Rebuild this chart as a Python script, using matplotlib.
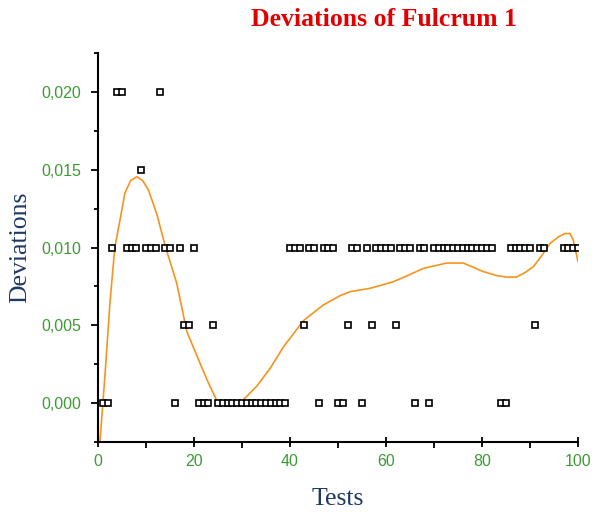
import matplotlib
matplotlib.use("Agg")
import matplotlib.pyplot as plt
from matplotlib.ticker import MultipleLocator, FuncFormatter

# measured deviations, grouped by level
x_000 = [1, 2, 16, 21, 22, 23] + list(range(25, 40)) + [46, 50, 51, 55, 66, 69, 84, 85]
x_005 = [18, 19, 24, 43, 52, 57, 62, 91]
x_010 = ([3, 6, 7, 8, 10, 11, 12, 14, 15, 17, 20, 40, 41, 42, 44, 45, 47, 48, 49,
          53, 54, 56, 58, 59, 60, 61, 63, 64, 65, 67, 68] + list(range(70, 83))
         + [86, 87, 88, 89, 90, 92, 93, 97, 98, 99, 100])
x_015 = [9]
x_020 = [4, 5, 13]

# fitted trend curve
curve_x = [0.4, 1.5, 2.5, 3.5, 4.6, 5.6, 6.8, 8.1, 9.3, 10.5, 12.2, 14.0, 15.2,
           16.4, 18.5, 21.2, 23.0, 24.7, 27.5, 29.9, 33.1, 36.0, 38.6, 42.8, 46.9,
           50.4, 52.5, 56.7, 61.5, 64.5, 67.8, 72.6, 76.1, 80.3, 83.0, 85.1, 87.2,
           89.0, 90.7, 92.5, 94.2, 96.0, 97.3, 98.3, 99.0, 100.0]
curve_y = [-0.0025, 0.0020, 0.0065, 0.0100, 0.0118, 0.0135, 0.0143, 0.01455, 0.0143,
           0.0137, 0.0122, 0.0101, 0.0089, 0.0077, 0.0046, 0.0026, 0.0013, 0.0002,
           -0.0001, 0.0001, 0.0011, 0.0023, 0.0036, 0.0053, 0.0063, 0.0069, 0.00716,
           0.00738, 0.0078, 0.0082, 0.00866, 0.0090, 0.0090, 0.00845, 0.0082, 0.0081,
           0.0081, 0.0084, 0.00877, 0.0095, 0.01027, 0.0107, 0.0109, 0.0109, 0.0105,
           0.0091]

fig = plt.figure(figsize=(5.98, 5.15), dpi=100)
ax = fig.add_axes([0.1639, 0.1417, 0.8027, 0.7554])

ax.plot(curve_x, curve_y, color="#f7931e", lw=1.2, zorder=2)

mk = dict(ls="none", marker="s", ms=4.2, mfc="white", mec="black", mew=1.2, zorder=3)
for xs, lvl in [(x_000, 0.0), (x_005, 0.005), (x_010, 0.010), (x_015, 0.015), (x_020, 0.020)]:
    ax.plot(xs, [lvl] * len(xs), **mk)

ax.set_xlim(0, 100)
ax.set_ylim(-0.0025, 0.0225)
for s in ["top", "right"]:
    ax.spines[s].set_visible(False)
for s in ["left", "bottom"]:
    ax.spines[s].set_linewidth(1.5)

green = "#3d9b35"
ax.xaxis.set_major_locator(MultipleLocator(20))
ax.xaxis.set_minor_locator(MultipleLocator(10))
ax.yaxis.set_major_locator(MultipleLocator(0.005))
ax.yaxis.set_minor_locator(MultipleLocator(0.0025))
ax.yaxis.set_major_formatter(FuncFormatter(lambda v, p: f"{v:.3f}".replace(".", ",")))
ax.tick_params(axis="x", which="major", direction="inout", length=7, width=1.3,
               labelsize=11.5, labelcolor=green, pad=5)
ax.tick_params(axis="x", which="minor", direction="out", length=4, width=1.3)
ax.tick_params(axis="y", which="major", direction="out", length=5, width=1.3,
               labelsize=11.5, labelcolor=green, pad=7)
ax.tick_params(axis="y", which="minor", direction="out", length=3, width=1.3)
for lab in ax.get_xticklabels() + ax.get_yticklabels():
    lab.set_fontfamily("Liberation Sans")

ax.set_xlabel("Tests", fontfamily="Liberation Serif", fontsize=18.5, color="#1f3864", labelpad=14)
ax.set_ylabel("Deviations", fontfamily="Liberation Serif", fontsize=18.5, color="#1f3864", labelpad=7)

fig.text(0.642, 0.963, "Deviations of Fulcrum 1", fontfamily="Liberation Serif",
         fontsize=18.5, fontweight="bold", color="#e00000", ha="center", va="center")

fig.savefig("out.png", dpi=100)
